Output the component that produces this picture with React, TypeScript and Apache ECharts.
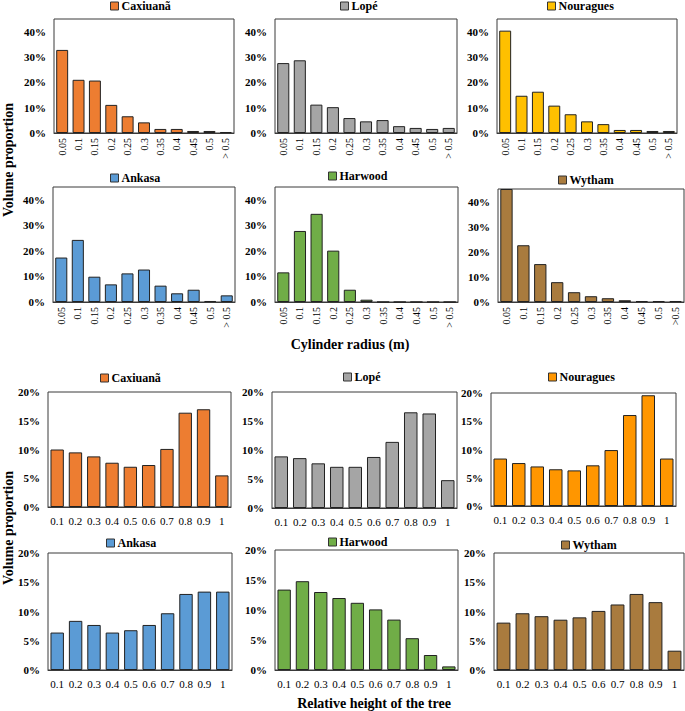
import React, { useEffect, useRef } from 'react';
import * as echarts from 'echarts';

const FONT = '"Liberation Serif", "Times New Roman", serif';

// Categories
const RADIUS_CATS = ['0.05', '0.1', '0.15', '0.2', '0.25', '0.3', '0.35', '0.4', '0.45', '0.5', '> 0.5'];
const RADIUS_CATS_WYTHAM = ['0.05', '0.1', '0.15', '0.2', '0.25', '0.3', '0.35', '0.4', '0.45', '0.5', '>0.5'];
const HEIGHT_CATS = ['0.1', '0.2', '0.3', '0.4', '0.5', '0.6', '0.7', '0.8', '0.9', '1'];

// Volume proportion (%) by cylinder radius (m)
const RADIUS_CAXIUANA = [32.8, 21.0, 20.7, 11.1, 6.6, 4.2, 1.6, 1.6, 0.8, 0.8, 0.4];
const RADIUS_LOPE = [27.6, 28.7, 11.2, 10.2, 5.9, 4.6, 5.1, 2.7, 2.0, 1.6, 2.0];
const RADIUS_NOURAGUES = [40.4, 14.7, 16.3, 10.8, 7.4, 4.6, 3.5, 1.2, 1.2, 0.8, 0.8];
const RADIUS_ANKASA = [17.4, 24.3, 9.9, 6.9, 11.2, 12.7, 6.4, 3.4, 4.8, 0.4, 2.6];
const RADIUS_HARWOOD = [11.6, 27.8, 34.5, 20.1, 4.8, 0.9, 0, 0, 0, 0, 0];
const RADIUS_WYTHAM = [45.0, 22.6, 15.1, 7.9, 3.9, 2.3, 1.5, 0.7, 0.4, 0.4, 0.4];

// Volume proportion (%) by relative height of the tree
const HEIGHT_CAXIUANA = [10.0, 9.5, 8.8, 7.7, 7.0, 7.3, 10.1, 16.4, 17.0, 5.5];
const HEIGHT_LOPE = [8.9, 8.6, 7.7, 7.1, 7.1, 8.8, 11.4, 16.5, 16.3, 4.8];
const HEIGHT_NOURAGUES = [8.4, 7.6, 7.0, 6.5, 6.3, 7.2, 9.9, 16.1, 19.6, 8.4];
const HEIGHT_ANKASA = [6.4, 8.4, 7.7, 6.4, 6.8, 7.7, 9.7, 13.0, 13.4, 13.4];
const HEIGHT_HARWOOD = [13.4, 14.8, 13.0, 12.0, 11.2, 10.1, 8.4, 5.3, 2.5, 0.6];
const HEIGHT_WYTHAM = [8.1, 9.7, 9.2, 8.6, 9.0, 10.1, 11.2, 13.0, 11.6, 3.3];

const SITE_NAMES = ['Caxiuanã', 'Lopé', 'Nouragues', 'Ankasa', 'Harwood', 'Wytham'];

type Panel = {
  name: string;
  color: string;
  cats: string[];
  values: number[];
  radius: boolean;
  g: [number, number, number, number]; // left, top, width, height
  lg: [number, number]; // legend left, legend center y
};

const PANELS: Panel[] = [
  { name: SITE_NAMES[0], color: '#ED7D31', cats: RADIUS_CATS, values: RADIUS_CAXIUANA, radius: true, g: [54, 19, 180, 114], lg: [110, 7] },
  { name: SITE_NAMES[1], color: '#A5A5A5', cats: RADIUS_CATS, values: RADIUS_LOPE, radius: true, g: [275, 19, 182, 114], lg: [340, 7] },
  { name: SITE_NAMES[2], color: '#FFC000', cats: RADIUS_CATS, values: RADIUS_NOURAGUES, radius: true, g: [497, 19, 180, 114], lg: [547, 7] },
  { name: SITE_NAMES[3], color: '#5B9BD5', cats: RADIUS_CATS, values: RADIUS_ANKASA, radius: true, g: [53, 187, 182, 115], lg: [110, 179] },
  { name: SITE_NAMES[4], color: '#70AD47', cats: RADIUS_CATS, values: RADIUS_HARWOOD, radius: true, g: [275, 187, 183, 115], lg: [328, 177] },
  { name: SITE_NAMES[5], color: '#A97B3E', cats: RADIUS_CATS_WYTHAM, values: RADIUS_WYTHAM, radius: true, g: [498, 189, 186, 113], lg: [558, 181] },
  { name: SITE_NAMES[0], color: '#ED7D31', cats: HEIGHT_CATS, values: HEIGHT_CAXIUANA, radius: false, g: [48, 392, 183, 115], lg: [100, 379] },
  { name: SITE_NAMES[1], color: '#A5A5A5', cats: HEIGHT_CATS, values: HEIGHT_LOPE, radius: false, g: [272, 392, 185, 116], lg: [343, 378] },
  { name: SITE_NAMES[2], color: '#FF9600', cats: HEIGHT_CATS, values: HEIGHT_NOURAGUES, radius: false, g: [491, 393, 185, 113], lg: [548, 378] },
  { name: SITE_NAMES[3], color: '#5B9BD5', cats: HEIGHT_CATS, values: HEIGHT_ANKASA, radius: false, g: [48, 553, 184, 117], lg: [106, 544] },
  { name: SITE_NAMES[4], color: '#70AD47', cats: HEIGHT_CATS, values: HEIGHT_HARWOOD, radius: false, g: [275, 550, 183, 120], lg: [328, 543] },
  { name: SITE_NAMES[5], color: '#A97B3E', cats: HEIGHT_CATS, values: HEIGHT_WYTHAM, radius: false, g: [494, 553, 190, 117], lg: [561, 546] },
];

export default function App() {
  const ref = useRef<HTMLDivElement>(null);

  useEffect(() => {
    if (!ref.current) return;
    const chart = echarts.init(ref.current, undefined, { renderer: 'svg' });

    const option: any = {
      animation: false,
      backgroundColor: '#ffffff',
      grid: PANELS.map((p) => ({
        left: p.g[0],
        top: p.g[1],
        width: p.g[2],
        height: p.g[3],
        show: true,
        borderColor: '#3a3a3a',
        borderWidth: 1,
        backgroundColor: 'transparent',
      })),
      xAxis: PANELS.map((p, i) => ({
        type: 'category',
        gridIndex: i,
        data: p.cats,
        axisLine: { show: true, lineStyle: { color: '#3a3a3a', width: 1 } },
        axisTick: { show: false },
        splitLine: { show: false },
        axisLabel: {
          interval: 0,
          rotate: p.radius ? 90 : 0,
          fontFamily: FONT,
          fontSize: p.radius ? 10 : 11,
          color: '#000',
          margin: p.radius ? 5 : 8,
        },
      })),
      yAxis: PANELS.map((p, i) => ({
        type: 'value',
        gridIndex: i,
        min: 0,
        max: p.radius ? 45 : 20,
        interval: p.radius ? 10 : 5,
        splitLine: { show: false },
        axisLine: { show: false },
        axisTick: { show: false },
        axisLabel: {
          formatter: '{value}%',
          showMaxLabel: p.radius ? false : true,
          fontFamily: FONT,
          fontWeight: 'bold',
          fontSize: 11,
          color: '#000',
          margin: 8,
        },
      })),
      legend: PANELS.map((p) => ({
        left: p.lg[0],
        top: p.lg[1] - 7,
        padding: 0,
        selectedMode: false,
        icon: 'rect',
        itemWidth: 8,
        itemHeight: 8,
        data: [{ name: p.name, itemStyle: { color: p.color, borderColor: '#333', borderWidth: 1 } }],
        textStyle: { fontFamily: FONT, fontWeight: 'bold', fontSize: 12, color: '#000', padding: [0, 0, 0, -2] },
      })),
      series: PANELS.map((p, i) => ({
        type: 'bar',
        name: p.name,
        xAxisIndex: i,
        yAxisIndex: i,
        data: p.values,
        barCategoryGap: '27%',
        itemStyle: { color: p.color, borderColor: '#222', borderWidth: 1 },
      })),
      graphic: [
        {
          type: 'text',
          x: 8,
          y: 160,
          rotation: Math.PI / 2,
          style: { text: 'Volume proportion', font: `bold 14px ${FONT}`, fill: '#000', align: 'center', verticalAlign: 'middle' },
        },
        {
          type: 'text',
          x: 8,
          y: 528,
          rotation: Math.PI / 2,
          style: { text: 'Volume proportion', font: `bold 14px ${FONT}`, fill: '#000', align: 'center', verticalAlign: 'middle' },
        },
        {
          type: 'text',
          x: 350,
          y: 344,
          style: { text: 'Cylinder radius (m)', font: `bold 14px ${FONT}`, fill: '#000', align: 'center', verticalAlign: 'middle' },
        },
        {
          type: 'text',
          x: 374,
          y: 703,
          style: { text: 'Relative height of the tree', font: `bold 14px ${FONT}`, fill: '#000', align: 'center', verticalAlign: 'middle' },
        },
      ],
    };

    chart.setOption(option);
    return () => chart.dispose();
  }, []);

  return (
    <div
      ref={ref}
      style={{ position: 'absolute', left: 0, top: 0, width: 685, height: 711, background: '#fff' }}
    />
  );
}
